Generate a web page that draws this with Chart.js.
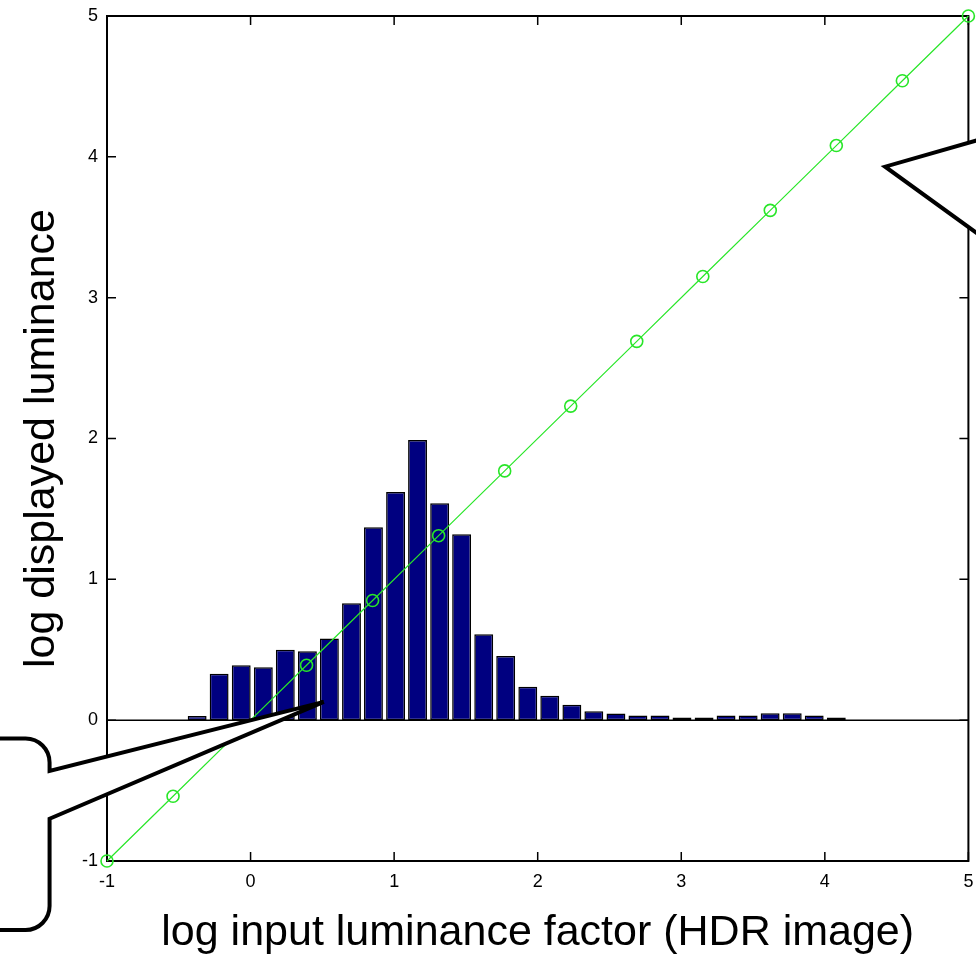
<!DOCTYPE html>
<html>
<head>
<meta charset="utf-8">
<script src="https://cdn.jsdelivr.net/npm/chart.js@4/dist/chart.umd.min.js"></script>
<style>
  html, body { margin: 0; padding: 0; background: #fff; }
  canvas { display: block; }
</style>
</head>
<body>
<canvas id="lumChart" width="976" height="959"></canvas>
<script>
// histogram bins (log input luminance) and their heights
const binCenters = [-0.372, -0.219, -0.065, 0.089, 0.242, 0.396, 0.549, 0.703, 0.856, 1.010,
                    1.163, 1.317, 1.470, 1.624, 1.777, 1.931, 2.084, 2.238, 2.391, 2.545,
                    2.698, 2.852, 3.005, 3.159, 3.312, 3.466, 3.619, 3.773, 3.926, 4.080];
const binHeights = [0.03, 0.33, 0.39, 0.375, 0.50, 0.49, 0.58, 0.83, 1.37, 1.62,
                    1.99, 1.54, 1.32, 0.61, 0.455, 0.237, 0.173, 0.11, 0.064, 0.047,
                    0.033, 0.033, 0.019, 0.019, 0.033, 0.033, 0.05, 0.05, 0.033, 0.019];

// tone curve (input -> displayed), marker points
const curveX = [-1, -0.54, -0.08, 0.39, 0.85, 1.31, 1.77, 2.23, 2.69, 3.15, 3.62, 4.08, 4.54, 5];
const curveY = [-1, -0.54, -0.08, 0.39, 0.85, 1.31, 1.77, 2.23, 2.69, 3.15, 3.62, 4.08, 4.54, 5];

const axisTicks = [-1, 0, 1, 2, 3, 4, 5];

// speech bubble callouts, in data units
const leftCallout = { tip: [0.51, 0.13], edge: -1.40, top: -0.13, baseTop: -0.36, baseBottom: -0.70, bottom: -1.49 };
const rightCallout = { tip: [4.42, 3.93], edge: 5.07, baseTop: 4.12, baseBottom: 3.45 };

const FONT = '"Liberation Sans", Arial, Helvetica, sans-serif';

// frame, inward ticks on all 4 sides, zero line
const framePlugin = {
  id: 'frame',
  beforeDatasetsDraw(chart) {
    const { ctx, chartArea: a, scales: { x, y } } = chart;
    ctx.save();
    ctx.strokeStyle = '#000';
    ctx.lineWidth = 1.5;
    const y0 = y.getPixelForValue(0);
    ctx.beginPath();
    ctx.moveTo(a.left, y0);
    ctx.lineTo(a.right, y0);
    ctx.stroke();

    ctx.lineWidth = 1.5;
    const tl = 9;
    ctx.beginPath();
    axisTicks.forEach(v => {
      const px = x.getPixelForValue(v);
      ctx.moveTo(px, a.bottom); ctx.lineTo(px, a.bottom - tl);
      ctx.moveTo(px, a.top); ctx.lineTo(px, a.top + tl);
      const py = y.getPixelForValue(v);
      ctx.moveTo(a.left, py); ctx.lineTo(a.left + tl, py);
      ctx.moveTo(a.right, py); ctx.lineTo(a.right - tl, py);
    });
    ctx.stroke();

    ctx.lineWidth = 2;
    ctx.strokeRect(a.left, a.top, a.right - a.left, a.bottom - a.top);
    ctx.restore();
  }
};

function bubbleLeft(ctx, x, y, c) {
  const ex = x.getPixelForValue(c.edge);
  const t = y.getPixelForValue(c.top), b = y.getPixelForValue(c.bottom);
  const bt = y.getPixelForValue(c.baseTop), bb = y.getPixelForValue(c.baseBottom);
  const tx = x.getPixelForValue(c.tip[0]), ty = y.getPixelForValue(c.tip[1]);
  const r = 24;
  ctx.beginPath();
  ctx.moveTo(-40, t);
  ctx.arcTo(ex, t, ex, t + r, r);
  ctx.lineTo(ex, bt);
  ctx.lineTo(tx, ty);
  ctx.lineTo(ex, bb);
  ctx.arcTo(ex, b, ex - r, b, r);
  ctx.lineTo(-40, b);
  ctx.closePath();
  ctx.fill();
  ctx.stroke();
}

function bubbleRight(ctx, x, y, c) {
  const ex = x.getPixelForValue(c.edge);
  const bt = y.getPixelForValue(c.baseTop), bb = y.getPixelForValue(c.baseBottom);
  const tx = x.getPixelForValue(c.tip[0]), ty = y.getPixelForValue(c.tip[1]);
  ctx.beginPath();
  ctx.moveTo(ex, bt - 200);
  ctx.lineTo(ex, bt);
  ctx.lineTo(tx, ty);
  ctx.lineTo(ex, bb);
  ctx.lineTo(ex, bb + 200);
  ctx.lineTo(ex + 100, bb + 200);
  ctx.lineTo(ex + 100, bt - 200);
  ctx.closePath();
  ctx.fill();
  ctx.stroke();
}

const calloutPlugin = {
  id: 'callouts',
  afterDraw(chart) {
    const { ctx, scales: { x, y } } = chart;
    ctx.save();
    ctx.fillStyle = '#fff';
    ctx.strokeStyle = '#000';
    ctx.lineWidth = 4;
    ctx.lineJoin = 'miter';
    bubbleLeft(ctx, x, y, leftCallout);
    bubbleRight(ctx, x, y, rightCallout);
    ctx.restore();
  }
};

const ctx = document.getElementById('lumChart').getContext('2d');
new Chart(ctx, {
  data: {
    datasets: [
      {
        type: 'line',
        order: 0,
        data: curveX.map((v, i) => ({ x: v, y: curveY[i] })),
        borderColor: 'rgb(40,230,40)',
        borderWidth: 1.2,
        pointStyle: 'circle',
        pointRadius: 6,
        pointBorderWidth: 1.6,
        pointBorderColor: 'rgb(40,230,40)',
        pointBackgroundColor: 'rgba(0,0,0,0)',
        fill: false,
        tension: 0,
        clip: false
      },
      {
        type: 'bar',
        order: 1,
        data: binCenters.map((v, i) => ({ x: v, y: binHeights[i] })),
        backgroundColor: '#000080',
        borderColor: '#000',
        borderWidth: 1.5,
        borderSkipped: false,
        categoryPercentage: 1,
        barPercentage: 0.86
      }
    ]
  },
  options: {
    responsive: false,
    animation: false,
    layout: { padding: { left: 0, right: 5, top: 16, bottom: 0 } },
    plugins: { legend: { display: false }, tooltip: { enabled: false } },
    scales: {
      x: {
        type: 'linear',
        min: -1,
        max: 5,
        offset: false,
        afterFit(s) { s.height = 98; s.paddingLeft = 0; s.paddingRight = 0; },
        afterBuildTicks(s) { s.ticks = axisTicks.map(v => ({ value: v })); },
        ticks: { color: '#000', font: { family: FONT, size: 18 }, padding: 10, maxRotation: 0 },
        grid: { display: false, drawTicks: false, offset: false },
        border: { display: false },
        title: {
          display: true,
          text: 'log input luminance factor (HDR image)',
          color: '#000',
          font: { family: FONT, size: 43 },
          padding: { top: 0, bottom: 0 }
        }
      },
      y: {
        type: 'linear',
        min: -1,
        max: 5,
        afterFit(s) { s.width = 107; s.paddingTop = 0; s.paddingBottom = 0; },
        afterBuildTicks(s) { s.ticks = axisTicks.map(v => ({ value: v })); },
        ticks: { color: '#000', font: { family: FONT, size: 18 }, padding: 9 },
        grid: { display: false, drawTicks: false },
        border: { display: false },
        title: {
          display: true,
          text: 'log displayed luminance',
          color: '#000',
          font: { family: FONT, size: 43 },
          padding: { top: 16, bottom: 0 }
        }
      }
    }
  },
  plugins: [framePlugin, calloutPlugin]
});
</script>
</body>
</html>
